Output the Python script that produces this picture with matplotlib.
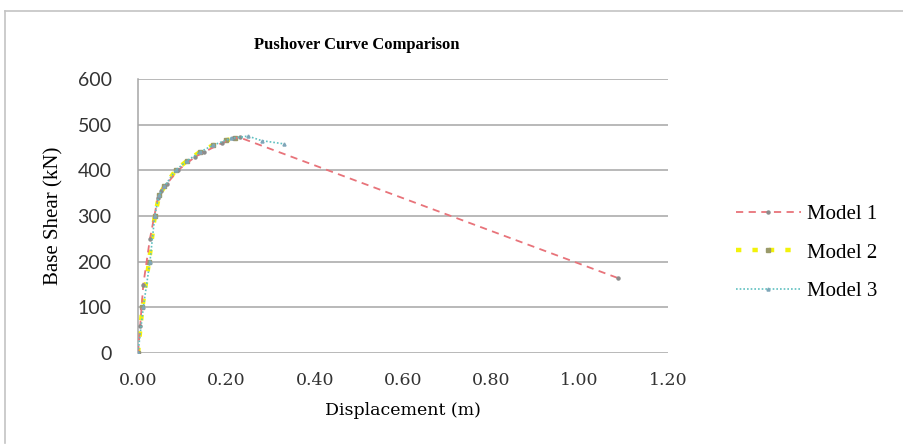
import matplotlib
matplotlib.use('Agg')
import matplotlib.pyplot as plt
from matplotlib.lines import Line2D

# Dati (spostamento in m, taglio alla base in kN)
m1_x = [0.0, 0.005, 0.012, 0.027, 0.045, 0.052, 0.065, 0.09, 0.13, 0.15, 0.19, 0.215, 0.23, 1.087]
m1_y = [0, 60, 150, 250, 340, 355, 370, 400, 430, 440, 460, 470, 472, 164]

m2_x = [0.0, 0.01, 0.025, 0.038, 0.048, 0.06, 0.085, 0.11, 0.14, 0.17, 0.2, 0.22]
m2_y = [0, 100, 200, 300, 345, 365, 400, 420, 440, 455, 466, 470]

m3_x = [0.0, 0.012, 0.027, 0.038, 0.047, 0.06, 0.085, 0.11, 0.14, 0.17, 0.21, 0.249, 0.28, 0.33]
m3_y = [0, 100, 200, 300, 345, 365, 400, 420, 440, 455, 470, 475, 465, 458]

x_ticks = [0.0, 0.2, 0.4, 0.6, 0.8, 1.0, 1.2]
y_ticks = [0, 100, 200, 300, 400, 500, 600]

serif = 'Liberation Serif'
sans = 'Lato'

fig = plt.figure(figsize=(9.04, 4.44), dpi=100)
ax = fig.add_axes([138 / 904, 1 - 353 / 444, 530 / 904, 274 / 444])

# cornice esterna grigia
fig.add_artist(Line2D([5 / 904, 5 / 904], [1 - 11 / 444, 1 - 443 / 444], color='#c4c4c4', lw=1.2))
fig.add_artist(Line2D([5 / 904, 1.0], [1 - 11 / 444, 1 - 11 / 444], color='#c4c4c4', lw=1.2))

ax.plot(m1_x, m1_y, color='#e8737a', ls=(0, (4, 3)), lw=1.3,
        marker='o', ms=2.2, mfc='#8c8c8c', mec='#8c8c8c', label='Model 1', zorder=3)
ax.plot(m2_x, m2_y, color='#f2f20a', ls=(0, (1.2, 2.5)), lw=3.2,
        marker='s', ms=2.2, mfc='#9a9a6a', mec='#9a9a6a', label='Model 2', zorder=2)
ax.plot(m3_x, m3_y, color='#5fc0c0', ls=(0, (1, 1.2)), lw=1.2,
        marker='^', ms=2.2, mfc='#7fa6b8', mec='#7fa6b8', label='Model 3', zorder=4)

ax.set_xlim(0, 1.2)
ax.set_ylim(0, 600)
ax.set_xticks(x_ticks)
ax.set_yticks(y_ticks)
ax.set_xticklabels(['%.2f' % v for v in x_ticks], fontfamily='DejaVu Serif', fontsize=12.5)
ax.set_yticklabels([str(v) for v in y_ticks], fontfamily=sans, fontsize=14)
ax.tick_params(axis='x', length=0, pad=14, colors='#333333')
ax.tick_params(axis='y', length=0, pad=19, colors='#333333')

ax.grid(axis='y', color='#a6a6a6', lw=1.1)
ax.set_axisbelow(True)
for s in ['top', 'right', 'bottom']:
    ax.spines[s].set_visible(False)
ax.spines['left'].set_color('#a6a6a6')
ax.spines['left'].set_linewidth(1.1)

fig.text(357 / 904, 1 - 45 / 444, 'Pushover Curve Comparison', fontfamily=serif,
         fontweight='bold', fontsize=12, ha='center', va='center')
ax.set_xlabel('Displacement (m)', fontfamily='DejaVu Serif', fontsize=12.5, labelpad=9)
ax.set_ylabel('Base Shear (kN)', fontfamily=serif, fontsize=15, labelpad=10)

fig.legend(handles=ax.get_lines(), loc='center left',
           bbox_to_anchor=(736 / 904, 1 - 253 / 444), borderaxespad=0, borderpad=0,
           frameon=False, prop={'family': serif, 'size': 15}, handlelength=3.1,
           labelspacing=0.9, handletextpad=0.3)

fig.savefig('out.png', dpi=100, facecolor='white')
